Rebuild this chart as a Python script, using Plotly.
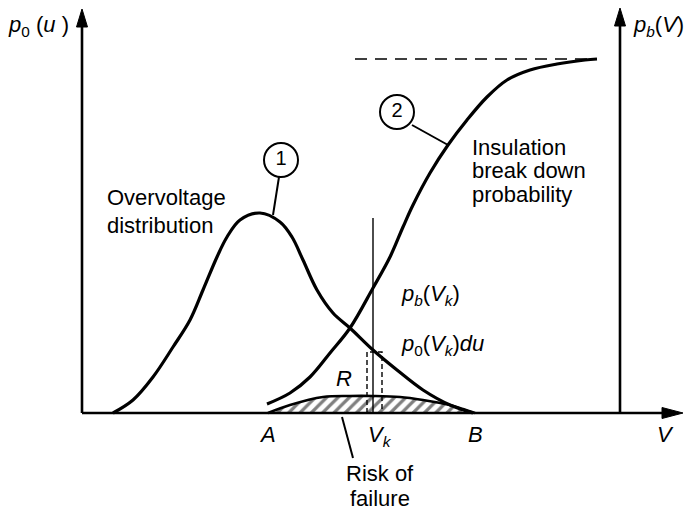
import plotly.graph_objects as go

# Horizontal positions (voltage axis) and heights above the V axis
ov_x = [113, 133, 153, 173, 190, 203, 217, 227, 240, 260, 280, 292, 303, 317, 333, 350, 373, 397, 423, 450, 473]
ov_y = [0, 13, 36, 66, 93, 123, 156, 176, 193, 200, 191, 176, 153, 123, 100, 85, 63, 43, 23, 8, 0]

bd_x = [267, 290, 310, 330, 350, 373, 390, 403, 413, 430, 448, 467, 487, 507, 530, 557, 585, 597]
bd_y = [9, 20, 36, 60, 85, 125, 156, 186, 208, 240, 268, 293, 316, 333, 343, 349, 353, 354]

risk_x = [268, 290, 323, 350, 373, 400, 423, 450, 463, 475]
risk_y = [0, 8, 16, 17, 17, 16, 13, 8, 4, 0]

V_A, V_k, V_B = 268, 373, 475
p0_at_Vk = 61
bd_max = 354

FONT = "Liberation Sans, Arial, sans-serif"
INK = "black"

fig = go.Figure()

def line(xs, ys, width=2.0, dash="solid", shape="linear"):
    fig.add_trace(go.Scatter(x=xs, y=ys, mode="lines", line=dict(color=INK, width=width, dash=dash, shape=shape),
                             hoverinfo="skip", showlegend=False))

def tri(xs, ys):
    fig.add_trace(go.Scatter(x=xs, y=ys, mode="lines", fill="toself", fillcolor=INK,
                             line=dict(color=INK, width=1), hoverinfo="skip", showlegend=False))

# hatched risk-of-failure region
fig.add_trace(go.Scatter(x=risk_x + risk_x[::-1], y=risk_y + [0] * len(risk_x), mode="lines", fill="toself",
                         fillcolor="white", line=dict(color=INK, width=0.1, shape="linear"),
                         fillpattern=dict(shape="/", fgcolor=INK, bgcolor="white", size=8, solidity=0.4),
                         hoverinfo="skip", showlegend=False))
line(risk_x, risk_y, width=2.6, shape="spline")

# axes
line([82, 82], [0, 390], width=2.6)
line([620, 620], [0, 390], width=2.6)
line([82, 666], [0, 0], width=2.6)
tri([76.5, 82, 87.5, 76.5], [386, 404, 386, 386])
tri([614.5, 620, 625.5, 614.5], [387, 405, 387, 387])
tri([662, 683, 662, 662], [5.5, 0, -5.5, 5.5])

# asymptote of the breakdown curve
line([355, 597], [bd_max, bd_max], width=1.6, dash="12px,8px")

# V_k marker line and the strip p0(V_k) du
line([V_k, V_k], [0, 195], width=1.4)
line([367, 367, 382, 382], [0, p0_at_Vk, p0_at_Vk, 0], width=1.4, dash="5px,3px")

# the two curves
line(ov_x, ov_y, width=3.2, shape="spline")
line(bd_x, bd_y, width=3.2, shape="spline")

# leaders
line([279, 273], [236, 198], width=2)
line([412, 448], [288, 268], width=2)
line([342, 353], [-4, -45], width=2)

# numbered circles
fig.add_trace(go.Scatter(x=[281, 397], y=[253, 301], mode="markers+text", text=["1", "2"],
                         textposition="middle center", textfont=dict(family=FONT, size=20, color=INK),
                         marker=dict(symbol="circle", size=34, color="white", line=dict(color=INK, width=2)),
                         hoverinfo="skip", showlegend=False))

def label(x, y, txt, anchor="left", size=22):
    fig.add_annotation(x=x, y=y, text=txt, showarrow=False, xanchor=anchor, yanchor="middle",
                       font=dict(family=FONT, size=size, color=INK))

label(38, 387, "<i>p</i><sub>0</sub> (<i>u</i> )", "center")
label(631, 387, "<i>p</i><sub><i>b</i></sub>(<i>V</i>)")
label(105, 216, "Overvoltage")
label(105, 188, "distribution")
label(470, 266, "Insulation")
label(470, 243, "break down")
label(470, 219, "probability")
label(399, 118, "<i>p</i><sub><i>b</i></sub>(<i>V</i><sub><i>k</i></sub>)")
label(399, 68, "<i>p</i><sub>0</sub>(<i>V</i><sub><i>k</i></sub>)<i>du</i>")
label(344, 35, "<i>R</i>", "center")
label(V_A - 1, -21, "<i>A</i>", "center")
label(366, -23, "<i>V</i><sub><i>k</i></sub>")
label(V_B, -21, "<i>B</i>", "center")
label(665, -21, "<i>V</i>", "center")
label(380, -60, "Risk of", "center")
label(380, -85, "failure", "center")

fig.update_layout(width=685, height=511, margin=dict(l=0, r=0, t=0, b=0),
                  paper_bgcolor="white", plot_bgcolor="white",
                  xaxis=dict(range=[0, 685], visible=False, fixedrange=True),
                  yaxis=dict(range=[-98, 413], visible=False, fixedrange=True))

fig.write_html("out.html")
